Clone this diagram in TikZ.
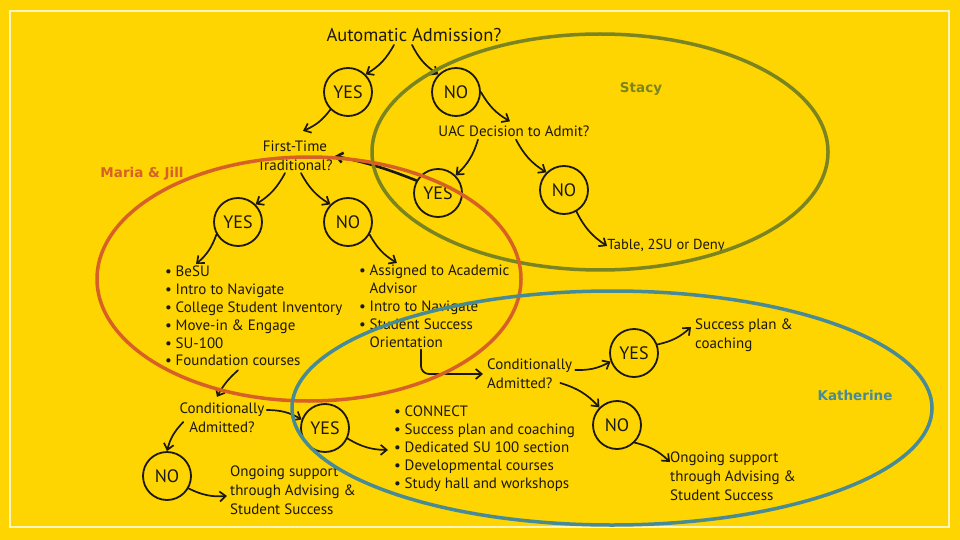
\documentclass[tikz,border=0pt]{standalone}
\usepackage{fontspec}
\setmainfont{PT Sans}
\newfontfamily\namefont{DejaVu Sans}
\usetikzlibrary{arrows.meta,positioning,shapes,calc}
\definecolor{bgyellow}{RGB}{254,213,0}
\definecolor{framecol}{RGB}{255,246,190}
\definecolor{ink}{RGB}{28,24,12}
\definecolor{stacycol}{RGB}{122,132,32}
\definecolor{mariacol}{RGB}{214,96,38}
\definecolor{kathcol}{RGB}{72,138,150}
\newcommand\bl{\makebox[10.5pt][l]{\textbullet}}
\newcommand\cont{\hspace*{10.5pt}}
\tikzset{
  yesno/.style = {circle, draw = ink, line width = 1.8pt, minimum size = 48pt, inner sep = 0pt, text = ink, font = \fontsize{18}{20}\selectfont},
  qtext/.style = {inner sep = 0pt, text = ink, font = \fontsize{15}{19}\selectfont},
  listtext/.style = {inner sep = 0pt, text = ink, align = left, font = \fontsize{15}{17.8}\selectfont},
  arr/.style = {-{Straight Barb[length = 6pt, width = 10pt]}, line width = 1.7pt, draw = ink, line cap = round},
  who/.style = {inner sep = 0pt, font = \namefont\bfseries\fontsize{13.5}{15}\selectfont}
}
\begin{document}
\begin{tikzpicture}[x = 1pt, y = -1pt]
\fill[bgyellow] (0,0) rectangle (960,540);
\useasboundingbox (0,0) rectangle (960,540);
\draw[framecol, line width = 2.5pt] (10,11) rectangle (949,527);
\node[qtext, font = \fontsize{18.5}{20}\selectfont] (auto) at (414,35) {Automatic Admission?};
\node[yesno] (yes1) at (348,92) {YES};
\node[yesno] (no1) at (456,92) {NO};
\node[qtext] (uac) at (514,131) {UAC Decision to Admit?};
\node[qtext, align = center] (ftt) at (295,156) {First-Time\\Traditional?};
\node[yesno] (yes2) at (438,193) {YES};
\node[yesno] (no2) at (564,190) {NO};
\node[qtext, font = \fontsize{14.5}{17}\selectfont] (deny) at (666,246) {Table, 2SU or Deny};
\node[yesno] (yes3) at (238,222) {YES};
\node[yesno] (no3) at (348,222) {NO};
\node[listtext, anchor = north west] (llist) at (165,266) {\bl BeSU\\\bl Intro to Navigate\\\bl College Student Inventory\\\bl Move-in \& Engage\\\bl SU-100\\\bl Foundation courses};
\node[listtext, anchor = north west] (rlist) at (359,265) {\bl Assigned to Academic\\\cont Advisor\\\bl Intro to Navigate\\\bl Student Success\\\cont Orientation};
\node[qtext, align = left, anchor = west] (cond2) at (487,374) {Conditionally\\Admitted?};
\node[yesno] (yes4) at (634,353) {YES};
\node[yesno] (no4) at (617,425) {NO};
\node[qtext, align = left, anchor = west] (succ) at (695,335) {Success plan \&\\coaching};
\node[qtext, align = left, anchor = north west] (ong2) at (670,452) {Ongoing support\\through Advising \&\\Student Success};
\node[qtext, align = center] (cond3) at (222,418) {Conditionally\\Admitted?};
\node[yesno] (yes5) at (325,428) {YES};
\node[yesno] (no5) at (167,476) {NO};
\node[qtext, align = left, anchor = west] (ong1) at (230,490) {Ongoing support\\through Advising \&\\Student Success};
\node[listtext, anchor = north west] (clist) at (394,406) {\bl CONNECT\\\bl Success plan and coaching\\\bl Dedicated SU 100 section\\\bl Developmental courses\\\bl Study hall and workshops};
\draw[arr] ([xshift = -20pt, yshift = -3pt]auto.south) to[bend left = 15] (yes1.north east);
\draw[arr] ([xshift = -2pt, yshift = -3pt]auto.south) to[bend right = 15] (no1.north west);
\draw[arr] (yes1.south west) to[bend left = 15] ([xshift = 8pt, yshift = 10pt]ftt.north);
\draw[arr] (no1.east) to[bend right = 15] ([xshift = -4pt, yshift = 4pt]uac.north);
\draw[arr] ([xshift = -36pt, yshift = -3pt]uac.south) to[bend left = 15] (yes2.north east);
\draw[arr] ([xshift = 2pt, yshift = -3pt]uac.south) to[bend right = 15] (no2.north west);
\draw[arr, line width = 2.6pt] (yes2.150) to[bend right = 5] ([xshift = 2pt]ftt.east);
\draw[arr] (no2.300) to[bend right = 15] (deny.west);
\draw[arr] ([xshift = -10pt, yshift = -2pt]ftt.south) to[bend left = 15] (yes3.north east);
\draw[arr] ([xshift = 6pt, yshift = -2pt]ftt.south) to[bend right = 15] (no3.north west);
\draw[arr] (yes3.210) to[bend left = 15] ([xshift = 31pt, yshift = 2pt]llist.north west);
\draw[arr] (no3.330) to[bend right = 15] ([xshift = 38pt, yshift = 2pt]rlist.north west);
\draw[arr, rounded corners = 8pt] ([xshift = 62pt, yshift = -2pt]rlist.south west) |- ([xshift = -4pt]cond2.west);
\draw[arr] ([xshift = 3pt, yshift = 4pt]cond2.east) to[bend right = 15] (yes4.200);
\draw[arr] ([xshift = -12pt, yshift = -9pt]cond2.east) to[bend left = 15] (no4.north west);
\draw[arr] (yes4.20) to[bend right = 15] ([xshift = -4pt, yshift = 8pt]succ.west);
\draw[arr] (no4.south east) to[bend left = 15] ([yshift = -10pt]ong2.north west);
\draw[arr] ([xshift = 73pt, yshift = -4pt]llist.south west) to[bend right = 10] ([xshift = -5pt, yshift = 6pt]cond3.north);
\draw[arr] ([xshift = 2pt, yshift = 8pt]cond3.east) to[bend left = 15] (yes5.160);
\draw[arr] ([xshift = 4pt, yshift = -4pt]cond3.west) to[bend right = 15] (no5.north);
\draw[arr] (no5.330) to[bend right = 15] ([xshift = -3pt, yshift = -6pt]ong1.west);
\draw[arr] (yes5.335) to[bend right = 15] ([xshift = -6pt, yshift = -44pt]clist.north west);
\draw[stacycol, line width = 3.5pt] (600,152) ellipse [x radius = 228pt, y radius = 118pt];
\draw[mariacol, line width = 3.5pt] (309,279) ellipse [x radius = 212pt, y radius = 122pt];
\draw[kathcol, line width = 3.5pt] (612,408) ellipse [x radius = 320pt, y radius = 117pt];
\node[who, text = stacycol] (stacy) at (641,89) {Stacy};
\node[who, text = mariacol] (maria) at (142,174) {Maria \& Jill};
\node[who, text = kathcol] (kath) at (855,395) {Katherine};
\end{tikzpicture}
\end{document}
